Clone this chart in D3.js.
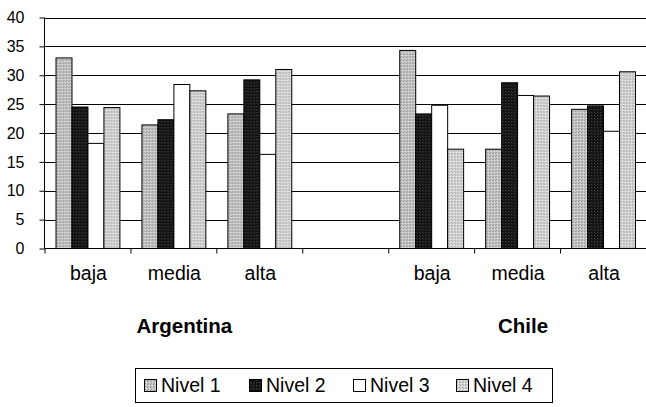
<!DOCTYPE html>
<html>
<head>
<meta charset="utf-8">
<script src="https://cdn.jsdelivr.net/npm/d3@7"></script>
<style>
  html, body { margin: 0; padding: 0; background: #fff; }
  svg { display: block; font-family: "Liberation Sans", Arial, Helvetica, sans-serif; }
</style>
</head>
<body>
<svg id="chart" width="646" height="407"></svg>
<script>
// Categories along the x axis (an empty slot separates the two countries)
const categories = ["baja", "media", "alta", "", "baja", "media", "alta"];
const countries = ["Argentina", "Chile"];
const countrySlots = [[0, 2], [4, 6]];
const series = ["Nivel 1", "Nivel 2", "Nivel 3", "Nivel 4"];

// Percentages per level, one entry per category slot
const nivel1 = [33.0, 21.4, 23.3, null, 34.3, 17.2, 24.1];
const nivel2 = [24.5, 22.3, 29.2, null, 23.3, 28.7, 24.7];
const nivel3 = [18.2, 28.4, 16.3, null, 24.8, 26.5, 20.3];
const nivel4 = [24.4, 27.3, 31.0, null, 17.2, 26.4, 30.6];

const yTicks = [0, 5, 10, 15, 20, 25, 30, 35, 40];

const values = [nivel1, nivel2, nivel3, nivel4];

const svg = d3.select("#chart");

// Texture fills for the levels
const defs = svg.append("defs");
function pattern(id, bg, dots) {
  const p = defs.append("pattern").attr("id", id)
    .attr("patternUnits", "userSpaceOnUse").attr("width", 3).attr("height", 3);
  p.append("rect").attr("width", 3).attr("height", 3).attr("fill", bg);
  dots.forEach(([x, y, c]) => p.append("rect").attr("x", x).attr("y", y)
    .attr("width", 1).attr("height", 1).attr("fill", c));
}
pattern("fill1", "#c4c4c4", [[0, 0, "#8f8f8f"], [2, 1, "#e8e8e8"], [1, 2, "#9a9a9a"]]);
pattern("fill2", "#121212", [[1, 1, "#4a4a4a"], [2, 2, "#2a2a2a"]]);
pattern("fill4", "#d2d2d2", [[0, 0, "#a6a6a6"], [2, 2, "#f0f0f0"], [1, 1, "#b4b4b4"]]);
const fills = ["url(#fill1)", "url(#fill2)", "#ffffff", "url(#fill4)"];

const plotLeft = 44.5, plotRight = 646, plotTop = 17.5, plotBottom = 248.5;

const x0 = d3.scaleBand()
  .domain(d3.range(categories.length))
  .range([plotLeft, plotRight])
  .padding(0);

const x1 = d3.scaleBand()
  .domain(series)
  .range([0, x0.bandwidth()])
  .paddingInner(0)
  .paddingOuter(0.69);

const y = d3.scaleLinear().domain([0, 40]).range([plotBottom, plotTop]);

// Horizontal grid lines
svg.append("g")
  .selectAll("line")
  .data(yTicks.filter(d => d > 0))
  .join("line")
  .attr("x1", plotLeft).attr("x2", plotRight)
  .attr("y1", d => Math.round(y(d)) + 0.5).attr("y2", d => Math.round(y(d)) + 0.5)
  .attr("stroke", "#000").attr("stroke-width", 1);

// Bars
const groups = svg.append("g")
  .selectAll("g")
  .data(d3.range(categories.length).filter(i => categories[i] !== ""))
  .join("g")
  .attr("transform", i => `translate(${x0(i)},0)`);

groups.selectAll("rect")
  .data(i => series.map((s, k) => ({ s, k, v: values[k][i] })))
  .join("rect")
  .attr("x", d => x1(d.s) + 0.5)
  .attr("width", x1.bandwidth())
  .attr("y", d => y(d.v))
  .attr("height", d => plotBottom - y(d.v))
  .attr("fill", d => fills[d.k])
  .attr("stroke", "#000")
  .attr("stroke-width", 1);

// Y axis
const yAxis = svg.append("g")
  .attr("transform", `translate(${plotLeft},0)`)
  .call(d3.axisLeft(y).tickValues(yTicks).tickSize(5).tickPadding(15));
yAxis.select(".domain").attr("stroke", "#000").attr("d", `M0,${plotTop}V${plotBottom}`);
yAxis.selectAll(".tick line").attr("stroke", "#000");
yAxis.selectAll("text")
  .attr("font-size", 16).attr("fill", "#000")
  .attr("font-family", "Liberation Sans, Arial, sans-serif");

// X axis with ticks on the category boundaries
const xb = d3.scaleLinear().domain([0, categories.length]).range([plotLeft, plotRight]);
const xAxis = svg.append("g")
  .attr("transform", `translate(0,${plotBottom})`)
  .call(d3.axisBottom(xb).tickValues(d3.range(categories.length + 1)).tickSize(5).tickFormat(""));
xAxis.select(".domain").attr("stroke", "#000").attr("d", `M${plotLeft},0H${plotRight}`);
xAxis.selectAll(".tick line").attr("stroke", "#000");

// Category labels
svg.append("g")
  .selectAll("text")
  .data(d3.range(categories.length).filter(i => categories[i] !== ""))
  .join("text")
  .attr("x", i => x0(i) + x0.bandwidth() / 2 + 1)
  .attr("y", 280)
  .attr("text-anchor", "middle")
  .attr("font-size", 19.5)
  .text(i => categories[i]);

// Country labels
svg.append("g")
  .selectAll("text")
  .data(countries)
  .join("text")
  .attr("x", (d, k) => (x0(countrySlots[k][0]) + x0(countrySlots[k][1]) + x0.bandwidth()) / 2 + [11, 6][k])
  .attr("y", 333)
  .attr("text-anchor", "middle")
  .attr("font-size", 20.5)
  .attr("font-weight", "bold")
  .text(d => d);

// Legend
const legend = svg.append("g");
legend.append("rect")
  .attr("x", 135.5).attr("y", 368.5).attr("width", 417).attr("height", 34)
  .attr("fill", "#fff").attr("stroke", "#000");
const legendX = [144, 249, 353, 456];
const items = legend.selectAll("g.item")
  .data(series)
  .join("g")
  .attr("class", "item")
  .attr("transform", (d, k) => `translate(${legendX[k]},0)`);
items.append("rect")
  .attr("x", 0.5).attr("y", 379.5).attr("width", 12).attr("height", 12)
  .attr("fill", (d, k) => fills[k]).attr("stroke", "#000");
items.append("text")
  .attr("x", 17).attr("y", 392)
  .attr("font-size", 19.5)
  .text(d => d);
</script>
</body>
</html>
